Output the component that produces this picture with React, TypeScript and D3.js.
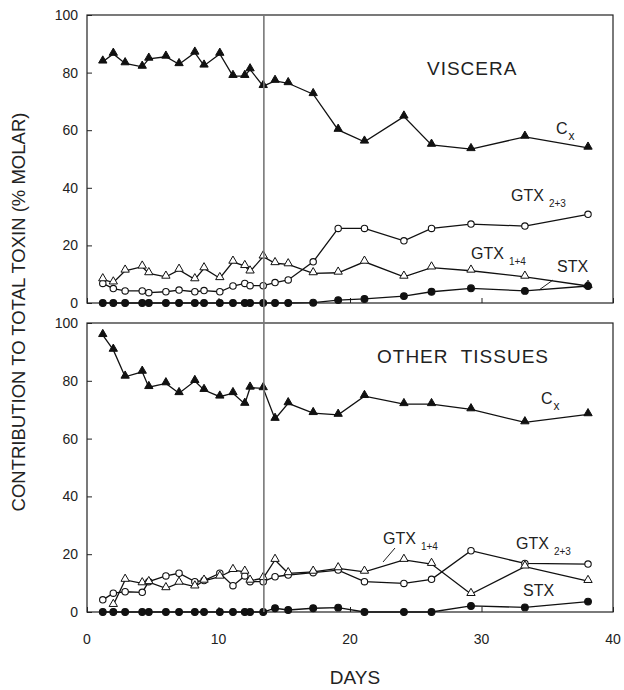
import * as d3 from "d3";
import React, { useEffect, useRef } from "react";

// sampling days (shared by all series)
const days = [1.2, 2.0, 2.9, 4.2, 4.7, 6.0, 7.0, 8.2, 8.9, 10.1, 11.1, 12.0, 12.4, 13.4, 14.3, 15.3, 17.2, 19.1, 21.1, 24.1, 26.2, 29.2, 33.3, 38.1];

// viscera
const visceraCx = [83.8, 86.5, 83.2, 82.0, 84.8, 85.5, 82.9, 86.9, 82.4, 86.5, 78.8, 78.8, 81.1, 75.3, 77.1, 76.3, 72.5, 60.1, 56.0, 64.7, 54.9, 53.4, 57.7, 53.9];
const visceraGtx14 = [8.2, 7.1, 11.2, 12.6, 10.3, 9.1, 11.5, 8.2, 12.0, 8.6, 14.3, 12.8, 10.9, 16.1, 13.8, 13.4, 10.3, 10.5, 14.3, 9.1, 12.3, 11.2, 9.1, 5.9];
const visceraGtx23 = [6.8, 5.0, 4.2, 4.2, 3.6, 3.9, 4.5, 3.9, 4.3, 3.9, 5.9, 6.8, 6.0, 6.0, 7.1, 8.0, 14.3, 25.9, 25.9, 21.6, 25.9, 27.4, 26.7, 30.8];
const visceraStx = [0, 0, 0, 0, 0, 0, 0, 0, 0, 0, 0, 0, 0, 0, 0, 0, 0.1, 1.0, 1.4, 2.4, 3.9, 5.1, 4.2, 5.9];

// other tissues
const otherCx = [95.8, 90.7, 81.4, 83.1, 77.8, 79.1, 75.7, 79.9, 76.8, 74.5, 75.7, 72.0, 77.6, 77.4, 66.8, 72.2, 68.8, 68.2, 74.7, 71.9, 71.9, 70.1, 65.6, 68.4];
const otherGtx14 = [null, 2.4, 11.1, 9.9, 10.3, 8.2, 10.1, 8.8, 10.8, 12.2, 14.5, 13.9, 10.8, 11.7, 18.0, 13.4, 13.9, 15.1, 13.9, 18.0, 16.6, 6.2, 15.7, 10.7];
const otherGtx23 = [4.2, 6.5, 7.0, 6.8, 10.5, 12.5, 13.4, 10.5, 10.9, 13.4, 9.1, 12.5, 10.5, 10.5, 12.2, 12.8, 13.6, 14.5, 10.5, 9.9, 11.3, 21.2, 16.8, 16.6];
const otherStx = [0, 0, 0, 0, 0, 0, 0, 0, 0, 0, 0, 0, 0, 0, 1.3, 0.7, 1.3, 1.5, 0, 0, 0, 2.1, 1.6, 3.6];

const xTicks = [0, 10, 20, 30, 40];
const yTicks = [0, 20, 40, 60, 80, 100];
const markerDay = 13.45;

type Series = { values: (number | null)[]; marker: "tri" | "circle"; filled: boolean };

const FONT = "'Liberation Sans', Arial, sans-serif";

const App = () => {
  const svgRef = useRef<SVGSVGElement>(null);

  useEffect(() => {
    const svg = d3.select(svgRef.current);
    svg.selectAll("*").remove();

    const left = 87;
    const right = 613;
    const x = d3.scaleLinear().domain([0, 40]).range([left, right]);

    const panels = [
      {
        top: 15,
        bottom: 303,
        title: "VISCERA",
        series: [
          { values: visceraGtx23, marker: "circle", filled: false },
          { values: visceraGtx14, marker: "tri", filled: false },
          { values: visceraCx, marker: "tri", filled: true },
          { values: visceraStx, marker: "circle", filled: true },
        ] as Series[],
      },
      {
        top: 323,
        bottom: 612,
        title: "OTHER  TISSUES",
        series: [
          { values: otherGtx23, marker: "circle", filled: false },
          { values: otherGtx14, marker: "tri", filled: false },
          { values: otherCx, marker: "tri", filled: true },
          { values: otherStx, marker: "circle", filled: true },
        ] as Series[],
      },
    ];

    const tri = d3.symbol().type(d3.symbolTriangle).size(30);

    panels.forEach((p, pi) => {
      const y = d3.scaleLinear().domain([0, 100]).range([p.bottom, p.top]);
      const g = svg.append("g");

      // frame
      g.append("rect")
        .attr("x", left)
        .attr("y", p.top)
        .attr("width", right - left)
        .attr("height", p.bottom - p.top)
        .attr("fill", "none")
        .attr("stroke", "#222")
        .attr("stroke-width", 1.2);

      // y ticks, inward
      g.append("g")
        .attr("transform", `translate(${left},0)`)
        .call(d3.axisRight(y).tickValues(yTicks).tickSize(5).tickFormat(() => ""))
        .call((a) => a.select(".domain").remove())
        .selectAll("line")
        .attr("stroke", "#222");

      g.selectAll(".ylab")
        .data(yTicks)
        .enter()
        .append("text")
        .attr("x", left - 9)
        .attr("y", (d) => y(d) + 5)
        .attr("text-anchor", "end")
        .attr("font-family", FONT)
        .attr("font-size", 14)
        .attr("fill", "#222")
        .text((d) => d);

      // x ticks, inward
      g.append("g")
        .attr("transform", `translate(0,${p.bottom})`)
        .call(d3.axisTop(x).tickValues(xTicks).tickSize(5).tickFormat(() => ""))
        .call((a) => a.select(".domain").remove())
        .selectAll("line")
        .attr("stroke", "#222");

      if (pi === 1) {
        g.selectAll(".xlab")
          .data(xTicks)
          .enter()
          .append("text")
          .attr("x", (d) => x(d))
          .attr("y", p.bottom + 32)
          .attr("text-anchor", "middle")
          .attr("font-family", FONT)
          .attr("font-size", 14)
          .attr("fill", "#222")
          .text((d) => d);
      }

      // lines
      const line = d3
        .line<number | null>()
        .defined((d) => d !== null)
        .x((_, i) => x(days[i]))
        .y((d) => y(d as number));

      p.series.forEach((s) => {
        g.append("path")
          .datum(s.values)
          .attr("d", line)
          .attr("fill", "none")
          .attr("stroke", "#111")
          .attr("stroke-width", 1.3);
      });

      // markers
      p.series.forEach((s) => {
        const pts = s.values
          .map((v, i) => ({ d: days[i], v }))
          .filter((o) => o.v !== null) as { d: number; v: number }[];
        const fill = s.filled ? "#111" : "#fff";
        if (s.marker === "circle") {
          g.selectAll(null)
            .data(pts)
            .enter()
            .append("circle")
            .attr("cx", (o) => x(o.d))
            .attr("cy", (o) => y(o.v))
            .attr("r", s.filled ? 3.4 : 3.2)
            .attr("fill", fill)
            .attr("stroke", "#111")
            .attr("stroke-width", 1.1);
        } else {
          g.selectAll(null)
            .data(pts)
            .enter()
            .append("path")
            .attr("d", tri)
            .attr("transform", (o) => `translate(${x(o.d)},${y(o.v) - 1})`)
            .attr("fill", fill)
            .attr("stroke", "#111")
            .attr("stroke-width", 1);
        }
      });

      // panel title
      g.append("text")
        .attr("x", pi === 0 ? 427 : 377)
        .attr("y", pi === 0 ? 75 : 363)
        .attr("font-family", FONT)
        .attr("font-size", 19)
        .attr("letter-spacing", 1)
        .attr("fill", "#222")
        .attr("xml:space", "preserve")
        .text(p.title);
    });

    // series labels
    const label = (tx: number, ty: number, main: string, sub?: string) => {
      const t = svg
        .append("text")
        .attr("x", tx)
        .attr("y", ty)
        .attr("font-family", FONT)
        .attr("font-size", 16)
        .attr("fill", "#222")
        .text(main);
      if (sub) {
        t.append("tspan")
          .attr("dx", sub === "x" ? 1 : 5)
          .attr("dy", 6)
          .attr("font-size", sub === "x" ? 12 : 10)
          .text(sub);
      }
    };
    const leader = (x1: number, y1: number, x2: number, y2: number) =>
      svg
        .append("line")
        .attr("x1", x1)
        .attr("y1", y1)
        .attr("x2", x2)
        .attr("y2", y2)
        .attr("stroke", "#222")
        .attr("stroke-width", 1);

    label(556, 134, "C", "x");
    label(511, 201, "GTX", "2+3");
    label(471, 259, "GTX", "1+4");
    label(557, 272, "STX");
    leader(553, 280, 539, 290);

    label(541, 404, "C", "x");
    label(383, 544, "GTX", "1+4");
    leader(395, 548, 383, 562);
    label(516, 549, "GTX", "2+3");
    label(523, 596, "STX");

    // vertical marker line across both panels
    svg
      .append("line")
      .attr("x1", x(markerDay))
      .attr("x2", x(markerDay))
      .attr("y1", 15)
      .attr("y2", 612)
      .attr("stroke", "#777")
      .attr("stroke-width", 1.6);

    // axis titles
    svg
      .append("text")
      .attr("transform", `translate(25,312) rotate(-90)`)
      .attr("text-anchor", "middle")
      .attr("font-family", FONT)
      .attr("font-size", 18.5)
      .attr("fill", "#222")
      .text("CONTRIBUTION TO TOTAL TOXIN (% MOLAR)");

    svg
      .append("text")
      .attr("x", 355)
      .attr("y", 684)
      .attr("text-anchor", "middle")
      .attr("font-family", FONT)
      .attr("font-size", 19)
      .attr("fill", "#222")
      .text("DAYS");
  }, []);

  return (
    <svg
      ref={svgRef}
      width="624"
      height="690"
      style={{ position: "absolute", left: 0, top: 0, background: "#fff" }}
    ></svg>
  );
};

export default App;
